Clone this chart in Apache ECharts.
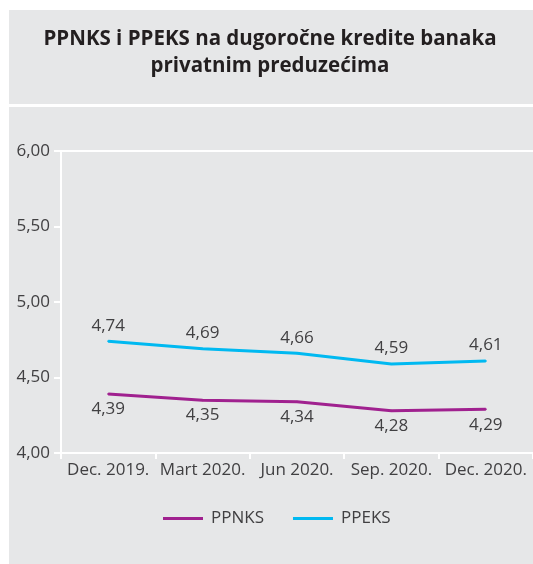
<!DOCTYPE html>
<html>
<head>
<meta charset="utf-8">
<script src="https://cdn.jsdelivr.net/npm/echarts@6/dist/echarts.min.js"></script>
<style>
html,body{margin:0;padding:0;background:#fff;}
#c{width:533px;height:564px;}
</style>
</head>
<body>
<div id="c"></div>
<script>
const categories = ['Dec. 2019.', 'Mart 2020.', 'Jun 2020.', 'Sep. 2020.', 'Dec. 2020.'];
const ppnks = [4.39, 4.35, 4.34, 4.28, 4.29];
const ppeks = [4.74, 4.69, 4.66, 4.59, 4.61];
const yMin = 4, yMax = 6, yInterval = 0.5;

const fmt = v => Number(v).toFixed(2).replace('.', ',');
const textColor = '#414042';
const font = '"Open Sans", "Noto Sans", sans-serif';

const chart = echarts.init(document.getElementById('c'));
chart.setOption({
  animation: false,
  backgroundColor: '#ffffff',
  graphic: [
    { type: 'rect', z: -10, shape: { x: 9, y: 10, width: 524, height: 94 }, style: { fill: '#e6e7e8' } },
    { type: 'rect', z: -10, shape: { x: 9, y: 107, width: 524, height: 457 }, style: { fill: '#e6e7e8' } }
  ],
  title: {
    text: 'PPNKS i PPEKS na dugoročne kredite banaka\nprivatnim preduzećima',
    left: 270, textAlign: 'center', top: 26, padding: 0,
    textStyle: { fontFamily: font, fontWeight: 'bold', fontSize: 20.5, lineHeight: 27, color: '#231f20' }
  },
  legend: {
    top: 505, left: 158,
    icon: 'rect', itemWidth: 40, itemHeight: 3, itemGap: 29,
    textStyle: { fontFamily: font, fontSize: 17, color: textColor, padding: [0, 0, 0, 3] },
    data: ['PPNKS', 'PPEKS']
  },
  grid: { left: 61, right: 0, top: 151, bottom: 111, containLabel: false },
  xAxis: [{
    type: 'category', data: categories, boundaryGap: true,
    axisLine: { show: true, lineStyle: { color: '#ffffff', width: 2 } },
    axisTick: { show: true, length: 6, lineStyle: { color: '#ffffff', width: 2 } },
    axisLabel: { fontFamily: font, fontSize: 17, color: textColor, margin: 9, interval: 0 }
  }, {
    type: 'category', data: categories, position: 'top',
    axisLine: { show: true, lineStyle: { color: '#ffffff', width: 2 } },
    axisTick: { show: false }, axisLabel: { show: false }
  }],
  yAxis: {
    type: 'value', min: yMin, max: yMax, interval: yInterval,
    axisLine: { show: true, lineStyle: { color: '#ffffff', width: 2 } },
    axisTick: { show: true, length: 7, lineStyle: { color: '#ffffff', width: 2 } },
    splitLine: { show: false },
    axisLabel: { fontFamily: font, fontSize: 17, color: textColor, margin: 11, formatter: fmt }
  },
  series: [{
    name: 'PPNKS', type: 'line', data: ppnks, xAxisIndex: 0,
    symbol: 'circle', symbolSize: 2, showSymbol: true, color: '#a0218f',
    itemStyle: { color: '#a0218f' },
    lineStyle: { width: 3, color: '#a0218f' },
    label: { show: true, position: 'bottom', distance: 6, formatter: p => fmt(p.value),
      fontFamily: font, fontSize: 17, color: textColor }
  }, {
    name: 'PPEKS', type: 'line', data: ppeks, xAxisIndex: 0,
    symbol: 'circle', symbolSize: 2, showSymbol: true, color: '#00b9f1',
    itemStyle: { color: '#00b9f1' },
    lineStyle: { width: 3, color: '#00b9f1' },
    label: { show: true, position: 'top', distance: 6, formatter: p => fmt(p.value),
      fontFamily: font, fontSize: 17, color: textColor }
  }]
});
</script>
</body>
</html>
